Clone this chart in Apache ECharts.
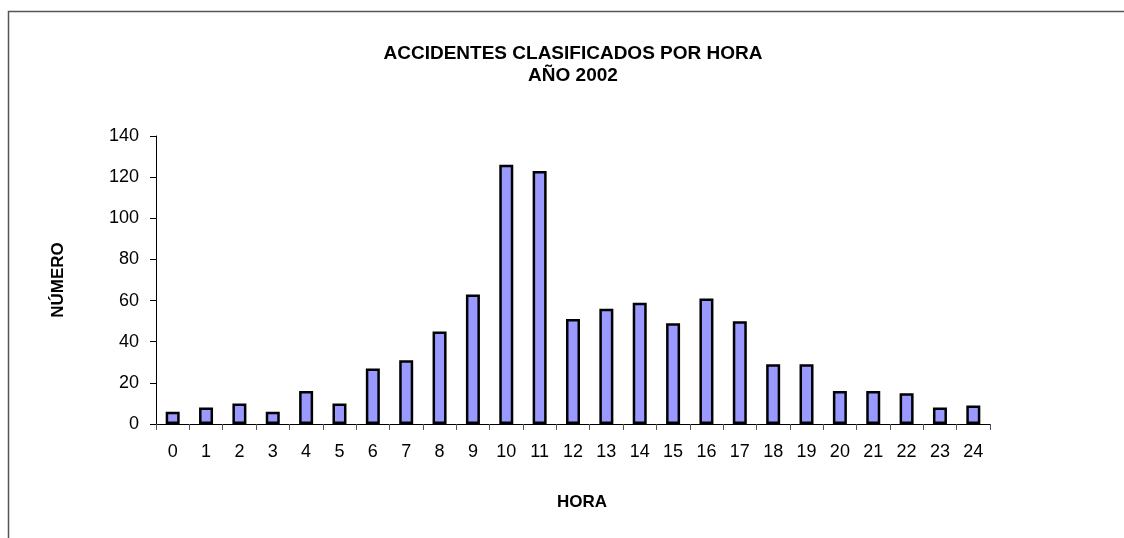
<!DOCTYPE html>
<html>
<head>
<meta charset="utf-8">
<style>
  html, body { margin: 0; padding: 0; background: #fff; }
  #chart { width: 1124px; height: 538px; }
</style>
</head>
<body>
<div id="chart"></div>
<script src="https://cdn.jsdelivr.net/npm/echarts@6/dist/echarts.min.js"></script>
<script>
// horas del día
var horas = ['0', '1', '2', '3', '4', '5', '6', '7', '8', '9', '10', '11', '12',
             '13', '14', '15', '16', '17', '18', '19', '20', '21', '22', '23', '24'];
// número de accidentes por hora
var accidentes = [6, 8, 10, 6, 16, 10, 27, 31, 45, 63, 126, 123, 51,
                  56, 59, 49, 61, 50, 29, 29, 16, 16, 15, 8, 9];
var yTicks = [0, 20, 40, 60, 80, 100, 120, 140];

var chart = echarts.init(document.getElementById('chart'));
var fuente = 'Liberation Sans, Arial, sans-serif';

chart.setOption({
    animation: false,
    backgroundColor: '#fff',
    title: {
        text: 'ACCIDENTES CLASIFICADOS POR HORA\nAÑO 2002',
        left: 568,
        top: 38,
        textAlign: 'center',
        textStyle: {
            fontFamily: fuente,
            fontSize: 19,
            fontWeight: 'bold',
            color: '#000',
            lineHeight: 22
        }
    },
    graphic: [{
        type: 'rect',
        shape: { x: 8.5, y: 11.5, width: 1300, height: 700 },
        style: { fill: 'none', stroke: '#555', lineWidth: 1.5 },
        silent: true
    }],
    grid: {
        left: 156,
        right: 134,
        top: 136,
        bottom: 114
    },
    xAxis: {
        type: 'category',
        data: horas,
        name: 'HORA',
        nameLocation: 'middle',
        nameGap: 70,
        nameTextStyle: {
            fontFamily: fuente,
            fontSize: 17,
            fontWeight: 'bold',
            color: '#000',
            padding: [0, 0, 0, 18]
        },
        axisLine: { lineStyle: { color: '#000', width: 1 } },
        axisTick: { show: true, length: 6, lineStyle: { color: '#555' } },
        axisLabel: {
            margin: 19,
            fontFamily: fuente,
            fontSize: 18,
            color: '#000'
        }
    },
    yAxis: {
        type: 'value',
        min: 0,
        max: yTicks[yTicks.length - 1],
        interval: yTicks[1] - yTicks[0],
        name: 'NÚMERO',
        nameLocation: 'middle',
        nameGap: 89,
        nameTextStyle: {
            fontFamily: fuente,
            fontSize: 17,
            fontWeight: 'bold',
            color: '#000'
        },
        axisLine: { show: true, lineStyle: { color: '#000', width: 1 } },
        axisTick: { show: true, length: 6, lineStyle: { color: '#000' } },
        splitLine: { show: false },
        axisLabel: {
            margin: 17,
            fontFamily: fuente,
            fontSize: 18,
            color: '#000'
        }
    },
    series: [{
        type: 'bar',
        data: accidentes,
        barWidth: 14,
        itemStyle: {
            color: '#9999FF',
            borderColor: '#000',
            borderWidth: 2.5
        }
    }]
});
</script>
</body>
</html>
